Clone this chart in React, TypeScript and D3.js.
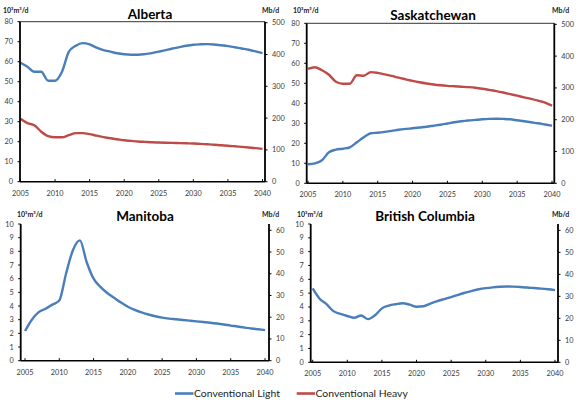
import * as d3 from "d3";

// years on the horizontal axis
const years = [
  2005, 2006, 2007, 2008, 2009, 2010, 2011, 2012, 2013, 2014, 2015, 2016,
  2017, 2018, 2019, 2020, 2021, 2022, 2023, 2024, 2025, 2026, 2027, 2028,
  2029, 2030, 2031, 2032, 2033, 2034, 2035, 2036, 2037, 2038, 2039, 2040,
];
const xTicks = [2005, 2010, 2015, 2020, 2025, 2030, 2035, 2040];

// 10^3 m3/d
const abLight = [
  59.5, 57.5, 55, 55, 50.5, 50.5, 55, 65, 68, 69.3, 68.7, 67, 65.8, 65, 64.2,
  63.7, 63.5, 63.5, 63.8, 64.3, 65, 65.8, 66.6, 67.3, 68, 68.5, 68.7, 68.8,
  68.6, 68.2, 67.8, 67.2, 66.6, 66, 65.2, 64.3,
];
const abHeavy = [
  31.5, 29.3, 28.2, 25, 22.8, 22.2, 22.2, 23.3, 24.3, 24.3, 23.8, 23, 22.3,
  21.7, 21.2, 20.7, 20.4, 20.1, 19.9, 19.7, 19.6, 19.5, 19.4, 19.3, 19.2,
  19.1, 18.9, 18.7, 18.5, 18.2, 18, 17.7, 17.4, 17.1, 16.8, 16.4,
];
const skLight = [
  9.5, 10, 11.5, 15.5, 16.8, 17.3, 18, 20.5, 23, 25, 25.3, 25.7, 26.2, 26.8,
  27.2, 27.5, 27.9, 28.3, 28.8, 29.3, 29.9, 30.5, 31, 31.4, 31.7, 32, 32.2,
  32.3, 32.2, 32, 31.5, 31, 30.5, 30, 29.4, 28.8,
];
const skHeavy = [
  57.2, 58, 56.5, 54.3, 50.8, 49.8, 49.8, 54, 53.8, 55.6, 55.2, 54.5, 53.7,
  52.8, 52, 51.2, 50.5, 49.9, 49.4, 49, 48.7, 48.5, 48.3, 48.1, 47.8, 47.3,
  46.7, 46.1, 45.4, 44.6, 43.8, 43, 42.2, 41.3, 40.3, 38.8,
];
const mbLight = [
  2.17, 3.0, 3.55, 3.8, 4.1, 4.4, 6.4, 8.1, 8.8, 7.2, 6.0, 5.4, 4.95, 4.6,
  4.25, 3.95, 3.72, 3.53, 3.38, 3.25, 3.15, 3.08, 3.03, 2.98, 2.93, 2.88,
  2.83, 2.78, 2.72, 2.65, 2.57, 2.5, 2.42, 2.36, 2.3, 2.24,
];
const bcLight = [
  5.35, 4.6, 4.2, 3.7, 3.5, 3.35, 3.22, 3.38, 3.12, 3.4, 3.9, 4.1, 4.2, 4.27,
  4.17, 4.02, 4.05, 4.25, 4.42, 4.57, 4.72, 4.88, 5.03, 5.17, 5.28, 5.36,
  5.42, 5.46, 5.48, 5.47, 5.44, 5.41, 5.37, 5.33, 5.28, 5.22,
];

const M3_TO_BBL = 6.29; // 1 10^3 m3/d = 6.29 Mb/d

const BLUE = "#4a7ebb";
const RED = "#be4b48";
const FONT = "Lato, 'Open Sans', sans-serif";
const TICK_COLOR = "#3a3a3a";

type PanelProps = {
  title: string;
  light: number[];
  heavy?: number[];
  box: { left: number; right: number; top: number; bottom: number };
  xRange: [number, number];
  yMax: number;
  yStep: number;
  rStep: number;
  titleX: number;
  titleY: number;
  unitLeftX: number;
  unitRightX: number;
  unitY: number;
  topBorder: boolean;
};

const Panel = (p: PanelProps) => {
  const { left, right, top, bottom } = p.box;
  const x = d3.scaleLinear().domain([2005, 2040]).range(p.xRange);
  const y = d3.scaleLinear().domain([0, p.yMax]).range([bottom, top]);
  const yR = d3
    .scaleLinear()
    .domain([0, p.yMax * M3_TO_BBL])
    .range([bottom, top]);

  const line = d3
    .line<number>()
    .x((_, i) => x(years[i]))
    .y((d) => y(d))
    .curve(d3.curveMonotoneX);

  const leftTicks = d3.range(0, p.yMax + 0.001, p.yStep);
  const rightTicks = d3.range(0, p.yMax * M3_TO_BBL, p.rStep);

  return (
    <g>
      <text
        x={p.titleX}
        y={p.titleY}
        textAnchor="middle"
        fontFamily={FONT}
        fontWeight="bold"
        fontSize={13.5}
        fill="#000"
      >
        {p.title}
      </text>
      <text
        x={p.unitLeftX}
        y={p.unitY}
        fontFamily={FONT}
        fontWeight="bold"
        fontSize={7}
        fill="#222"
      >
        10³m³/d
      </text>
      <text
        x={p.unitRightX}
        y={p.unitY}
        fontFamily={FONT}
        fontWeight="bold"
        fontSize={7}
        fill="#222"
      >
        Mb/d
      </text>

      {/* lines */}
      {p.heavy && (
        <path d={line(p.heavy) ?? ""} fill="none" stroke={RED} strokeWidth={2.4} />
      )}
      <path d={line(p.light) ?? ""} fill="none" stroke={BLUE} strokeWidth={2.4} />

      {/* frame */}
      {p.topBorder && (
        <line x1={left} x2={right} y1={top} y2={top} stroke="#000" strokeWidth={0.8} />
      )}
      <line x1={left} x2={right} y1={bottom} y2={bottom} stroke="#000" strokeWidth={1.4} />
      <line x1={left} x2={left} y1={top} y2={bottom} stroke="#000" strokeWidth={1.8} />
      <line x1={right} x2={right} y1={top} y2={bottom} stroke="#000" strokeWidth={1.8} />

      {/* left axis */}
      {leftTicks.map((t) => (
        <g key={"l" + t}>
          <line x1={left - 2.5} x2={left} y1={y(t)} y2={y(t)} stroke="#000" strokeWidth={1} />
          <text
            x={left - 7}
            y={y(t) + 2.5}
            textAnchor="end"
            fontFamily={FONT}
            fontSize={7.3}
            fill={TICK_COLOR}
          >
            {t}
          </text>
        </g>
      ))}

      {/* right axis */}
      {rightTicks.map((t) => (
        <g key={"r" + t}>
          <line x1={right} x2={right + 2.5} y1={yR(t)} y2={yR(t)} stroke="#000" strokeWidth={1} />
          <text
            x={right + 7}
            y={yR(t) + 2.5}
            textAnchor="start"
            fontFamily={FONT}
            fontSize={7.3}
            fill={TICK_COLOR}
          >
            {t}
          </text>
        </g>
      ))}

      {/* bottom axis */}
      {xTicks.map((t) => (
        <g key={"x" + t}>
          <line x1={x(t)} x2={x(t)} y1={bottom - 2.5} y2={bottom} stroke="#000" strokeWidth={1} />
          <text
            x={x(t)}
            y={bottom + 14}
            textAnchor="middle"
            fontFamily={FONT}
            fontSize={7.3}
            fill={TICK_COLOR}
          >
            {t}
          </text>
        </g>
      ))}
    </g>
  );
};

export default function App() {
  return (
    <svg
      width={580}
      height={403}
      style={{ position: "absolute", left: 0, top: 0, background: "#fff" }}
    >
      <rect width={580} height={403} fill="#fff" />
      <Panel
        title="Alberta"
        light={abLight}
        heavy={abHeavy}
        box={{ left: 20, right: 265, top: 21.7, bottom: 181.7 }}
        xRange={[20.5, 262.5]}
        yMax={80}
        yStep={10}
        rStep={100}
        titleX={150}
        titleY={19}
        unitLeftX={3}
        unitRightX={262}
        unitY={12.5}
        topBorder
      />
      <Panel
        title="Saskatchewan"
        light={skLight}
        heavy={skHeavy}
        box={{ left: 306.7, right: 554.3, top: 23.3, bottom: 183.3 }}
        xRange={[308, 552]}
        yMax={80}
        yStep={10}
        rStep={100}
        titleX={433}
        titleY={20}
        unitLeftX={293}
        unitRightX={552}
        unitY={13}
        topBorder
      />
      <Panel
        title="Manitoba"
        light={mbLight}
        box={{ left: 20.7, right: 269, top: 224, bottom: 360.7 }}
        xRange={[25, 265]}
        yMax={10}
        yStep={1}
        rStep={10}
        titleX={145}
        titleY={221}
        unitLeftX={17}
        unitRightX={262}
        unitY={216.5}
        topBorder={false}
      />
      <Panel
        title="British Columbia"
        light={bcLight}
        box={{ left: 310.7, right: 558, top: 224, bottom: 362.3 }}
        xRange={[312.7, 555]}
        yMax={10}
        yStep={1}
        rStep={10}
        titleX={425}
        titleY={221}
        unitLeftX={297}
        unitRightX={552}
        unitY={216.5}
        topBorder={false}
      />

      {/* legend */}
      <line x1={175} x2={193.5} y1={393.5} y2={393.5} stroke={BLUE} strokeWidth={2.6} />
      <text x={194} y={397.2} fontFamily={FONT} fontSize={10.4} fill="#222">
        Conventional Light
      </text>
      <line x1={296.7} x2={315} y1={393.5} y2={393.5} stroke={RED} strokeWidth={2.6} />
      <text x={315.5} y={397.2} fontFamily={FONT} fontSize={10.4} fill="#222">
        Conventional Heavy
      </text>
    </svg>
  );
}
